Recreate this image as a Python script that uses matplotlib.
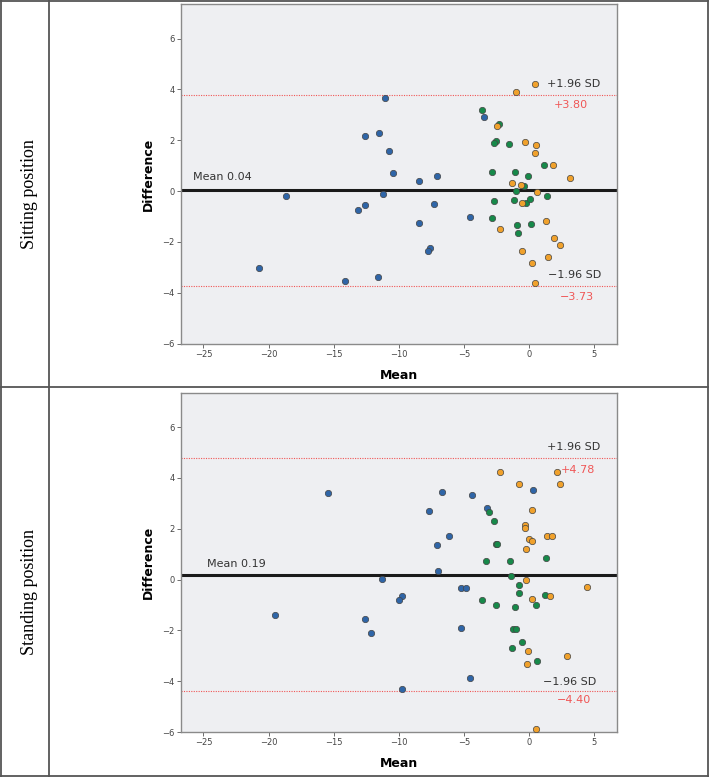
import matplotlib.pyplot as plt
from matplotlib.lines import Line2D
import numpy as np

# ---- Sitting position ----
sit_blue_x = [-11.09, -3.46, -12.57, -11.52, -10.78, -10.45, -8.42, -7.04, -11.24, -18.64,
              -13.13, -12.62, -7.25, -4.51, -8.42, -7.60, -7.76, -20.74, -14.11, -11.62]
sit_blue_y = [3.65, 2.93, 2.17, 2.28, 1.56, 0.71, 0.39, 0.60, -0.13, -0.20,
              -0.75, -0.55, -0.52, -1.03, -1.24, -2.24, -2.35, -3.01, -3.52, -3.36]
sit_green_x = [-3.61, -2.28, -2.56, -2.71, -1.51, 1.15, -2.82, -1.10, -0.08, -0.36,
               -1.00, 1.41, -2.64, -1.13, -0.23, 0.08, -2.84, -0.92, 0.20, -0.82]
sit_green_y = [3.18, 2.65, 1.99, 1.90, 1.85, 1.01, 0.75, 0.75, 0.60, 0.20,
               0.00, -0.18, -0.37, -0.33, -0.46, -0.31, -1.05, -1.33, -1.31, -1.66]
sit_orange_x = [0.51, -1.02, -2.41, -0.28, 0.54, 0.51, 1.87, 3.20, -1.28, -0.61,
                0.59, -0.51, -2.25, 1.31, 1.95, 2.43, -0.51, 1.48, 0.28, 0.44]
sit_orange_y = [4.22, 3.89, 2.55, 1.95, 1.83, 1.51, 1.02, 0.52, 0.31, 0.26,
                -0.03, -0.48, -1.50, -1.19, -1.83, -2.12, -2.34, -2.61, -2.82, -3.63]
sit_mean, sit_upper, sit_lower = 0.04, 3.80, -3.73

# ---- Standing position ----
std_blue_x = [-15.44, -6.66, -4.33, 0.33, -7.71, -3.20, -6.14, -7.07, -7.01, -11.26,
              -5.22, -4.84, -9.78, -9.96, -19.51, -12.62, -12.16, -5.20, -4.56, -9.78]
std_blue_y = [3.41, 3.46, 3.33, 3.53, 2.69, 2.83, 1.73, 1.36, 0.34, 0.03,
              -0.34, -0.34, -0.64, -0.82, -1.41, -1.54, -2.10, -1.91, -3.86, -4.29]
std_green_x = [-3.07, -2.66, -2.56, -2.48, -3.30, -1.48, 1.28, -1.38, -0.79, -0.77,
               1.25, -3.58, -2.53, -1.05, 0.54, -1.23, -0.95, -0.56, -1.33, 0.61]
std_green_y = [2.64, 2.31, 1.38, 1.38, 0.73, 0.71, 0.83, 0.12, -0.21, -0.52,
               -0.59, -0.82, -1.01, -1.07, -1.02, -1.95, -1.95, -2.44, -2.68, -3.19]
std_orange_x = [-2.25, 2.20, -0.77, 2.38, 0.26, -0.26, -0.31, 1.36, 1.79, 0.00,
                0.28, -0.20, -0.20, 4.48, 0.28, 1.59, -0.10, 2.97, -0.13, 0.56]
std_orange_y = [4.24, 4.24, 3.75, 3.77, 2.73, 2.14, 2.03, 1.72, 1.73, 1.61,
                1.51, 1.22, -0.03, -0.29, -0.77, -0.63, -2.81, -3.01, -3.33, -5.88]
std_mean, std_upper, std_lower = 0.19, 4.78, -4.40

row_labels = ["Sitting position", "Standing position"]
x_ticks = [-25, -20, -15, -10, -5, 0, 5]
y_ticks = [-6, -4, -2, 0, 2, 4, 6]

BLUE = "#2f65a7"
GREEN = "#17894a"
ORANGE = "#f0a12c"
RED = "#f05656"


def draw_panel(ax, groups, mean, upper, lower, mean_xy, up_xy, lo_xy):
    ax.set_facecolor("#eeeff2")
    for xs, ys, c in groups:
        ax.scatter(xs, ys, s=21, color=c, edgecolors="#444444", linewidths=0.5, zorder=3)
    ax.axhline(mean, color="#1a1a1a", lw=2.2, zorder=2)
    ax.axhline(upper, color=RED, lw=0.8, ls=(0, (1.0, 1.2)), zorder=2)
    ax.axhline(lower, color=RED, lw=0.8, ls=(0, (1.0, 1.2)), zorder=2)

    ax.text(mean_xy[0], mean_xy[1], "Mean %.2f" % mean, fontsize=8, color="#333333", va="center")
    ax.text(up_xy[0], up_xy[1], "+1.96 SD", fontsize=8, color="#333333", va="center")
    ax.text(up_xy[2], up_xy[3], "+%.2f" % upper, fontsize=8, color=RED, va="center")
    ax.text(lo_xy[0], lo_xy[1], "\u22121.96 SD", fontsize=8, color="#333333", va="center")
    ax.text(lo_xy[2], lo_xy[3], "\u2212%.2f" % abs(lower), fontsize=8, color=RED, va="center")

    ax.set_xlim(-26.75, 6.75)
    ax.set_ylim(-6, 7.35)
    ax.set_xticks(x_ticks)
    ax.set_yticks(y_ticks)
    ax.tick_params(labelsize=6, length=3, width=0.6, color="#555555", labelcolor="#444444", pad=1.5)
    for s in ax.spines.values():
        s.set_color("#8a8a8a")
        s.set_linewidth(1.0)
    ax.set_xlabel("Mean", fontsize=9, fontweight="bold", labelpad=7)
    ax.set_ylabel("Difference", fontsize=9, fontweight="bold", labelpad=5)


fig = plt.figure(figsize=(7.09, 7.77), dpi=100)

ax1 = fig.add_axes([0.2549, 0.5577, 0.6149, 0.4368])
draw_panel(ax1,
           [(sit_blue_x, sit_blue_y, BLUE), (sit_green_x, sit_green_y, GREEN),
            (sit_orange_x, sit_orange_y, ORANGE)],
           sit_mean, sit_upper, sit_lower,
           (-25.8, 0.56), (1.36, 4.23, 1.92, 3.38), (1.51, -3.31, 2.38, -4.17))

ax2 = fig.add_axes([0.2549, 0.0579, 0.6149, 0.4367])
draw_panel(ax2,
           [(std_blue_x, std_blue_y, BLUE), (std_green_x, std_green_y, GREEN),
            (std_orange_x, std_orange_y, ORANGE)],
           std_mean, std_upper, std_lower,
           (-24.76, 0.62), (1.41, 5.21, 2.46, 4.32), (1.05, -4.03, 2.18, -4.73))

# table frame
frame_col = "#555555"
W, H = 709.0, 777.0
for (x0, y0, x1, y1) in [(0.5, 0.8, 708.3, 0.8), (0.5, 387, 708.3, 387), (0.5, 776, 708.3, 776),
                         (0.8, 0, 0.8, 777), (49, 0, 49, 777), (708.2, 0, 708.2, 777)]:
    fig.add_artist(Line2D([x0 / W, x1 / W], [1 - y0 / H, 1 - y1 / H],
                          transform=fig.transFigure, color=frame_col, lw=1.3))

fig.text(29 / W, 1 - 194 / H, row_labels[0], rotation=90, fontsize=13,
         family="Liberation Serif", ha="center", va="center")
fig.text(29 / W, 1 - 592 / H, row_labels[1], rotation=90, fontsize=13,
         family="Liberation Serif", ha="center", va="center")

fig.savefig("out.png", dpi=100)
